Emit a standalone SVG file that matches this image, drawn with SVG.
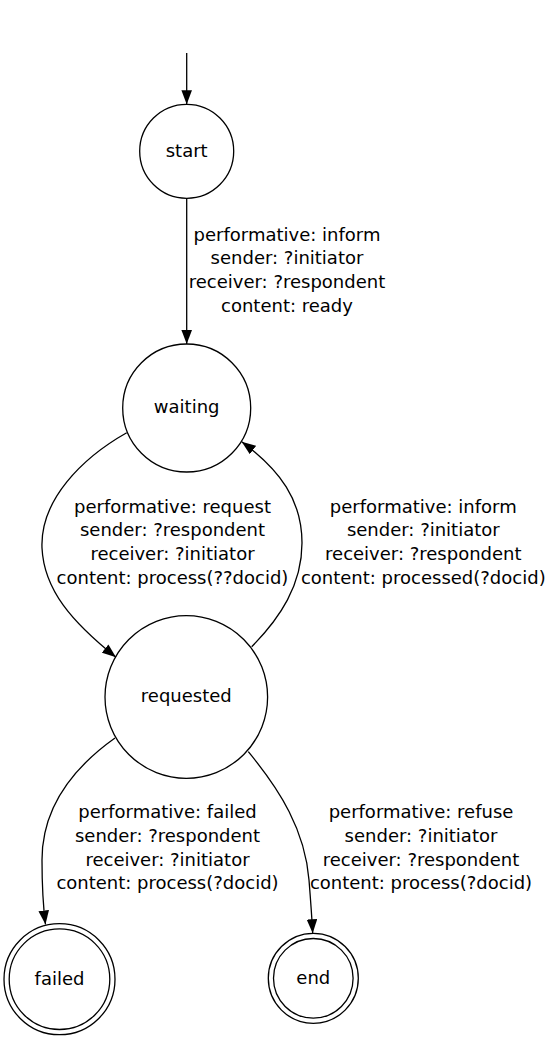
<svg xmlns="http://www.w3.org/2000/svg" width="552" height="1040" viewBox="0 0 552 1040">
<style>
  .node circle { fill: none; stroke: #000; stroke-width: 1.3; }
  .node text, .lbl text { font-family: "DejaVu Sans", sans-serif; font-size: 18px; fill: #000; text-anchor: middle; }
  .edge { fill: none; stroke: #000; stroke-width: 1.3; marker-end: url(#arr); }
</style>
<defs>
  <marker id="arr" markerWidth="14" markerHeight="11" refX="14" refY="5.3" orient="auto" markerUnits="userSpaceOnUse">
    <path d="M0,0 L14,5.3 L0,10.6 z" fill="#000"/>
  </marker>
</defs>
<rect width="552" height="1040" fill="#fff"/>
<g id="connectors">
  <path class="edge" d="M186.7,53 L186.7,104.3"/>
  <path class="edge" d="M186.7,198.3 L186.7,344"/>
  <path class="edge" d="M126.7,432.7 C82,458 40,500 42,548 C44,590 72,622 116,657.3"/>
  <path class="edge" d="M251.7,646.7 C280,618 302,585 302,543 C302,500 280,470 241.7,441.7"/>
  <path class="edge" d="M115,738 C70,770 42,810 42,860 C42,890 43,905 45.5,924.5"/>
  <path class="edge" d="M248.3,751.7 C280,790 305,830 309,880 C311,905 312,920 312.7,933.3"/>
</g>
<g class="lbl" id="label-start-waiting">
  <text x="287" y="240.5">performative: inform</text>
  <text x="287" y="264.2">sender: ?initiator</text>
  <text x="287" y="288">receiver: ?respondent</text>
  <text x="287" y="311.7">content: ready</text>
</g>
<g class="lbl" id="label-waiting-requested">
  <text x="172.5" y="512.5">performative: request</text>
  <text x="172.5" y="536.2">sender: ?respondent</text>
  <text x="172.5" y="560">receiver: ?initiator</text>
  <text x="172.5" y="583.6">content: process(??docid)</text>
</g>
<g class="lbl" id="label-requested-waiting">
  <text x="423.3" y="512.5">performative: inform</text>
  <text x="423.3" y="536.2">sender: ?initiator</text>
  <text x="423.3" y="560">receiver: ?respondent</text>
  <text x="423.3" y="583.6">content: processed(?docid)</text>
</g>
<g class="lbl" id="label-requested-failed">
  <text x="167.5" y="818.3">performative: failed</text>
  <text x="167.5" y="842">sender: ?respondent</text>
  <text x="167.5" y="865.7">receiver: ?initiator</text>
  <text x="167.5" y="889.4">content: process(?docid)</text>
</g>
<g class="lbl" id="label-requested-end">
  <text x="421" y="818.3">performative: refuse</text>
  <text x="421" y="842">sender: ?initiator</text>
  <text x="421" y="865.7">receiver: ?respondent</text>
  <text x="421" y="889.4">content: process(?docid)</text>
</g>
<g class="node" id="start">
  <circle cx="186.7" cy="151.3" r="47"/>
  <text x="186.7" y="156.7">start</text>
</g>
<g class="node" id="waiting">
  <circle cx="186.7" cy="408" r="64"/>
  <text x="186.7" y="413.4">waiting</text>
</g>
<g class="node" id="requested">
  <circle cx="186.3" cy="697" r="81.3"/>
  <text x="186.3" y="702.4">requested</text>
</g>
<g class="node" id="failed">
  <circle cx="59.5" cy="979.2" r="55.5"/>
  <circle cx="59.5" cy="979.2" r="50.3"/>
  <text x="59.5" y="984.6">failed</text>
</g>
<g class="node" id="end">
  <circle cx="313.3" cy="978.3" r="45"/>
  <circle cx="313.3" cy="978.3" r="39.8"/>
  <text x="313.3" y="983.7">end</text>
</g>
</svg>
